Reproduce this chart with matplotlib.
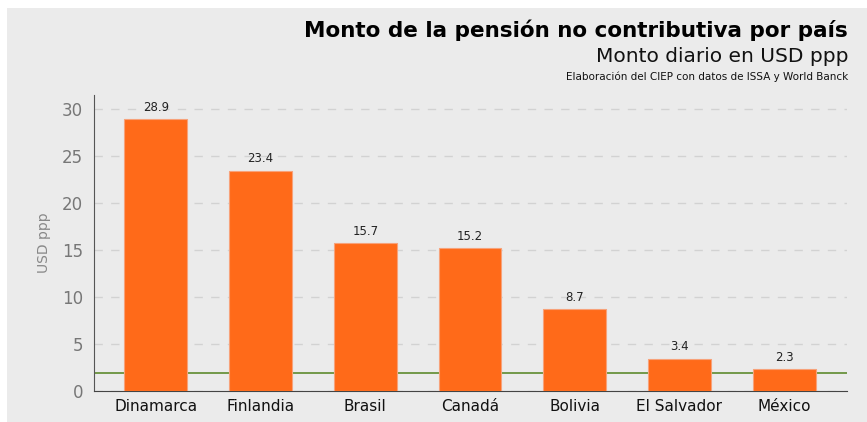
import matplotlib.pyplot as plt
from matplotlib.patches import Rectangle

# data
paises = ['Dinamarca', 'Finlandia', 'Brasil', 'Canadá', 'Bolivia', 'El Salvador', 'México']
monto = [28.9, 23.4, 15.7, 15.2, 8.7, 3.4, 2.3]
linea_ref = 1.9

plt.rcParams['font.family'] = ['DejaVu Sans']

fig = plt.figure(figsize=(8.67, 4.22), dpi=100)
fig.patch.set_facecolor('white')
fig.patches.append(Rectangle((7/867, 0), 1, 1 - 8/422, transform=fig.transFigure,
                             facecolor='#ebebeb', edgecolor='none', zorder=-10))

ax = fig.add_axes([94/867, 1 - 391/422, (847-94)/867, (391-95)/422])
ax.set_facecolor('#ebebeb')

bars = ax.bar(range(len(paises)), monto, width=0.6, color='#ff6a19',
              edgecolor='#f7a27a', linewidth=0.8, zorder=3)
for i, v in enumerate(monto):
    ax.text(i, v + 0.6, '%.1f' % v, ha='center', va='bottom', fontsize=8.5, color='#222222')

ax.axhline(linea_ref, color='#5e8a2e', linewidth=1.2, zorder=2)

ax.set_xlim(-0.59, 6.6)
ax.set_ylim(0, 31.5)
ax.set_yticks([0, 5, 10, 15, 20, 25, 30])
ax.yaxis.grid(True, linestyle=(0, (6, 6)), color='#d2d2d2', linewidth=1, zorder=0)
ax.set_xticks(range(len(paises)))
ax.set_xticklabels(paises, fontsize=11, color='#111111')
ax.tick_params(axis='y', length=0, labelsize=12, labelcolor='#777777', pad=8)
ax.tick_params(axis='x', length=0, pad=6)
for s in ['top', 'right']:
    ax.spines[s].set_visible(False)
ax.spines['left'].set_color('#555555')
ax.spines['bottom'].set_color('#444444')
ax.set_ylabel('USD ppp', fontsize=10, color='#888888', labelpad=8)

fig.text(848/867, 1 - 30/422, 'Monto de la pensión no contributiva por país', ha='right',
         va='center', fontsize=15.5, fontweight='bold', color='black')
fig.text(848/867, 1 - 56/422, 'Monto diario en USD ppp', ha='right', va='center',
         fontsize=14.5, color='#111111')
fig.text(848/867, 1 - 77/422, 'Elaboración del CIEP con datos de ISSA y World Banck', ha='right',
         va='center', fontsize=7.5, color='#111111')

plt.savefig('out.png', dpi=100, facecolor=fig.get_facecolor())
